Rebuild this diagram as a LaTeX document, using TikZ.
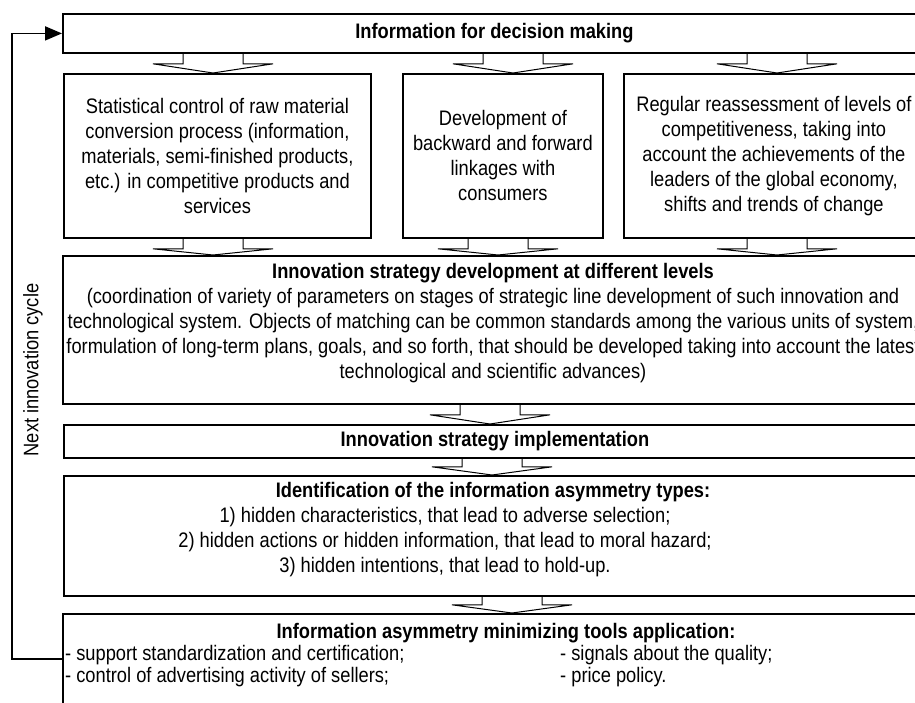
\documentclass[tikz,border=0pt]{standalone}
\usepackage{fontspec}
\setmainfont[FakeStretch=0.87]{Liberation Sans}
\usetikzlibrary{arrows.meta}

% hollow flat arrow: [shaft], x, upper node, lower node
\newcommand{\flatarr}[4][10]{%
	\coordinate (fx) at (#2,0);
	\coordinate (fa) at (#3.south -| fx);
	\coordinate (fb) at (#4.north -| fx);
	\draw[hollow] ([xshift=-30pt]fa) -- ([xshift=-30pt,yshift=-#1pt]fa) -- ([xshift=-60pt,yshift=-#1pt]fa) -- (fb)
		-- ([xshift=60pt,yshift=-#1pt]fa) -- ([xshift=30pt,yshift=-#1pt]fa) -- ([xshift=30pt]fa);}

\begin{document}
\begin{tikzpicture}[>={Triangle[length=17pt,width=14pt]},x=1pt,y=-1pt,
	font=\fontsize{21}{25}\selectfont,
	box/.style={draw,line width=1.8pt,inner sep=2pt,anchor=north west,align=center},
	txt/.style={inner sep=0pt,align=center},
	hollow/.style={line width=1pt,line join=miter},
	cycleline/.style={line width=1.8pt}]
	\useasboundingbox (0,0) rectangle (915,702);
	\clip (0,0) rectangle (915,702);
	% frames
	\node[box,minimum width=863pt,minimum height=39pt] (info) at (62,13) {};
	\node[box,minimum width=307pt,minimum height=164pt] (stat) at (63,73) {Statistical control of raw material\\conversion process (information,\\materials, semi-finished products,\\etc.) in competitive products and\\services};
	\node[box,minimum width=200pt,minimum height=164pt] (back) at (402,73) {Development of\\backward and forward\\linkages with\\consumers};
	\node[box,minimum width=300pt,minimum height=164pt] (reg) at (623,73) {Regular reassessment of levels of\\competitiveness, taking into\\account the achievements of the\\leaders of the global economy,\\shifts and trends of change};
	\node[box,minimum width=863pt,minimum height=148pt] (dev) at (62,255) {};
	\node[box,minimum width=862pt,minimum height=33pt] (impl) at (63,424) {};
	\node[box,minimum width=862pt,minimum height=120pt] (ident) at (63,475) {};
	\node[box,minimum width=863pt,minimum height=110pt] (tools) at (62,613) {};
	% texts
	\node[txt] (infotxt) at (info.center) {\textbf{Information for decision making}};
	\node[txt] (devtxt) at (493,323) {\textbf{Innovation strategy development at different levels}\\(coordination of variety of parameters on stages of strategic line development of such innovation and\\technological system. Objects of matching can be common standards among the various units of system,\\formulation of long-term plans, goals, and so forth, that should be developed taking into account the latest\\technological and scientific advances)};
	\node[txt] (impltxt) at (impl.center) {\textbf{Innovation strategy implementation}};
	\node[txt] (identttl) at (493,492) {\textbf{Identification of the information asymmetry types:}};
	\node[txt] (identlist) at (445,542) {1) hidden characteristics, that lead to adverse selection;\\2) hidden actions or hidden information, that lead to moral hazard;\\3) hidden intentions, that lead to hold-up.};
	\node[txt] (toolsttl) at (506,633) {\textbf{Information asymmetry minimizing tools application:}};
	\node[txt,anchor=west,align=left,font=\fontsize{21}{22}\selectfont] (toolsl) at (65,666) {- support standardization and certification;\\- control of advertising activity of sellers;};
	\node[txt,anchor=west,align=left,font=\fontsize{21}{22}\selectfont] (toolsr) at (560,666) {- signals about the quality;\\- price policy.};
	\node[txt,rotate=90] (nextcyc) at (33,370) {Next innovation cycle};
	% block arrows
	\flatarr{213}{info}{stat}
	\flatarr{513}{info}{back}
	\flatarr{777}{info}{reg}
	\flatarr{213}{stat}{dev}
	\flatarr{498}{back}{dev}
	\flatarr{777}{reg}{dev}
	\flatarr{490}{dev}{impl}
	\flatarr[8]{492}{impl}{ident}
	\flatarr[8]{512}{ident}{tools}
	% feedback loop
	\coordinate (fbturn) at (12,659);
	\draw[cycleline,->] (tools.west |- fbturn) -- (fbturn) |- (info.west);
\end{tikzpicture}
\end{document}
